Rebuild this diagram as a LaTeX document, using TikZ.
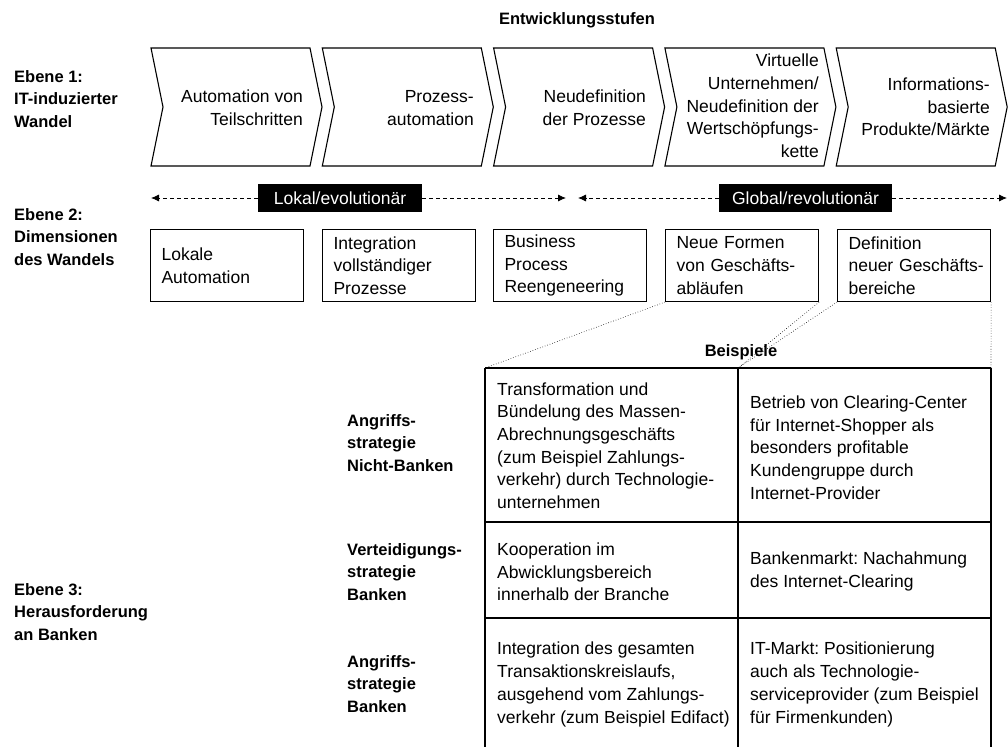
\documentclass[tikz,border=0pt]{standalone}
\usepackage{fontspec}
\setmainfont{Liberation Sans}
\usetikzlibrary{arrows.meta}
\frenchspacing

\begin{document}
\begin{tikzpicture}[x=1pt,y=-1pt,
  txt/.style={font=\fontsize{17.5}{22.7}\selectfont, inner sep=0pt},
  hd/.style={font=\fontsize{16.5}{22.7}\selectfont\bfseries, inner sep=0pt, align=left},
  stage/.style={draw, line width=1.1pt, line join=miter},
  stagetext/.style={txt, align=right, anchor=east},
  dimbox/.style={draw, line width=1.1pt, txt, align=left, anchor=north west,
    text width=131pt, inner xsep=11pt, inner ysep=0pt, minimum height=72pt},
  tag/.style={fill=black, text=white, txt, minimum height=28pt},
  darr/.style={dash pattern=on 4pt off 3pt, line width=0.8pt, -{Latex[length=8pt,width=7pt]}},
  guide/.style={dotted, line width=0.6pt},
  grid/.style={line width=1.2pt},
  cell/.style={txt, align=left, anchor=west},
]
\useasboundingbox (0,0) rectangle (1008,747);

% heading
\node[hd] (title) at (577,20) {Entwicklungsstufen};

% level labels
\node[hd, anchor=west] (lvl1) at (14,99) {Ebene 1:\\IT-induzierter\\Wandel};
\node[hd, anchor=west] (lvl2) at (14,237) {Ebene 2:\\Dimensionen\\des Wandels};
\node[hd, anchor=west] (lvl3) at (14,612) {Ebene 3:\\Herausforderung\\an Banken};

% development stages (chevrons)
\foreach \i in {0,...,4}{
  \pgfmathsetmacro\xa{151+171.3*\i}
  \draw[stage] (\xa,48) -- ++(159,0) -- ++(12,59) -- ++(-12,59) -- ++(-159,0) -- ++(12,-59) -- cycle;
}
\node[stagetext] (s1) at (303,108) {Automation von\\Teilschritten};
\node[stagetext] (s2) at (474,108) {Prozess-\\automation};
\node[stagetext] (s3) at (646,108) {Neudefinition\\der Prozesse};
\node[stagetext] (s4) at (819,106) {Virtuelle\\Unternehmen/\\Neudefinition der\\Wertschöpfungs-\\kette};
\node[stagetext] (s5) at (990,107) {Informations-\\basierte\\Produkte/Märkte};

% local / global ranges
\node[tag, minimum width=164pt] (lok) at (340,198) {Lokal/evolutionär};
\node[tag, minimum width=173pt] (glo) at (805.5,198) {Global/revolutionär};
\coordinate (lokL) at (151,198);
\coordinate (lokR) at (566,198);
\coordinate (gloL) at (578,198);
\coordinate (gloR) at (1007,198);
\draw[darr] (lok.west) -- (lokL);
\draw[darr] (lok.east) -- (lokR);
\draw[darr] (glo.west) -- (gloL);
\draw[darr] (glo.east) -- (gloR);

% dimensions of change
\node[dimbox] (d1) at (150,229) {Lokale\\Automation};
\node[dimbox] (d2) at (322,229) {Integration\\vollständiger\\Prozesse};
\node[dimbox] (d3) at (493,229) {Business\\Process\\Reengeneering};
\node[dimbox] (d4) at (665,229) {\mbox{Neue Formen}\\\mbox{von Geschäfts-}\\abläufen};
\node[dimbox] (d5) at (837,229) {Definition\\\mbox{neuer Geschäfts-}\\bereiche};

% examples table
\coordinate (tl) at (485,368);
\coordinate (tm) at (738,368);
\coordinate (tr) at (991,368);
\coordinate (bl) at (485,747);
\coordinate (bm) at (738,747);
\coordinate (br) at (991,747);
\coordinate (r1l) at (485,522);
\coordinate (r1r) at (991,522);
\coordinate (r2l) at (485,618);
\coordinate (r2r) at (991,618);

\draw[guide] (d4.south west) -- (tl);
\draw[guide] (d4.south east) -- (tm);
\draw[guide] (d5.south west) -- (tm);
\draw[guide] (d5.south east) -- (tr);

\node[hd] (bsp) at (741,352) {Beispiele};

\draw[grid] (tl) -- (tr);
\draw[grid] (r1l) -- (r1r);
\draw[grid] (r2l) -- (r2r);
\draw[grid] (tl) -- (bl);
\draw[grid] (tm) -- (bm);
\draw[grid] (tr) -- (br);

% row headings
\node[hd, anchor=west] (h1) at (347,443) {Angriffs-\\strategie\\Nicht-Banken};
\node[hd, anchor=west] (h2) at (347,572) {Verteidigungs-\\strategie\\Banken};
\node[hd, anchor=west] (h3) at (347,684) {Angriffs-\\strategie\\Banken};

% cells
\node[cell] (c11) at (497,445.5) {Transformation und\\Bündelung des Massen-\\Abrechnungsgeschäfts\\(zum Beispiel Zahlungs-\\verkehr) durch Technologie-\\unternehmen};
\node[cell] (c12) at (750,447.5) {Betrieb von Clearing-Center\\für Internet-Shopper als\\besonders profitable\\Kundengruppe durch\\Internet-Provider};
\node[cell] (c21) at (497,572) {Kooperation im\\Abwicklungsbereich\\innerhalb der Branche};
\node[cell] (c22) at (750,571.5) {Bankenmarkt: Nachahmung\\des Internet-Clearing};
\node[cell] (c31) at (497,684.5) {Integration des gesamten\\Transaktionskreislaufs,\\ausgehend vom Zahlungs-\\verkehr (zum Beispiel Edifact)};
\node[cell] (c32) at (750,684.5) {IT-Markt: Positionierung\\auch als Technologie-\\serviceprovider (zum Beispiel\\für Firmenkunden)};
\end{tikzpicture}
\end{document}
